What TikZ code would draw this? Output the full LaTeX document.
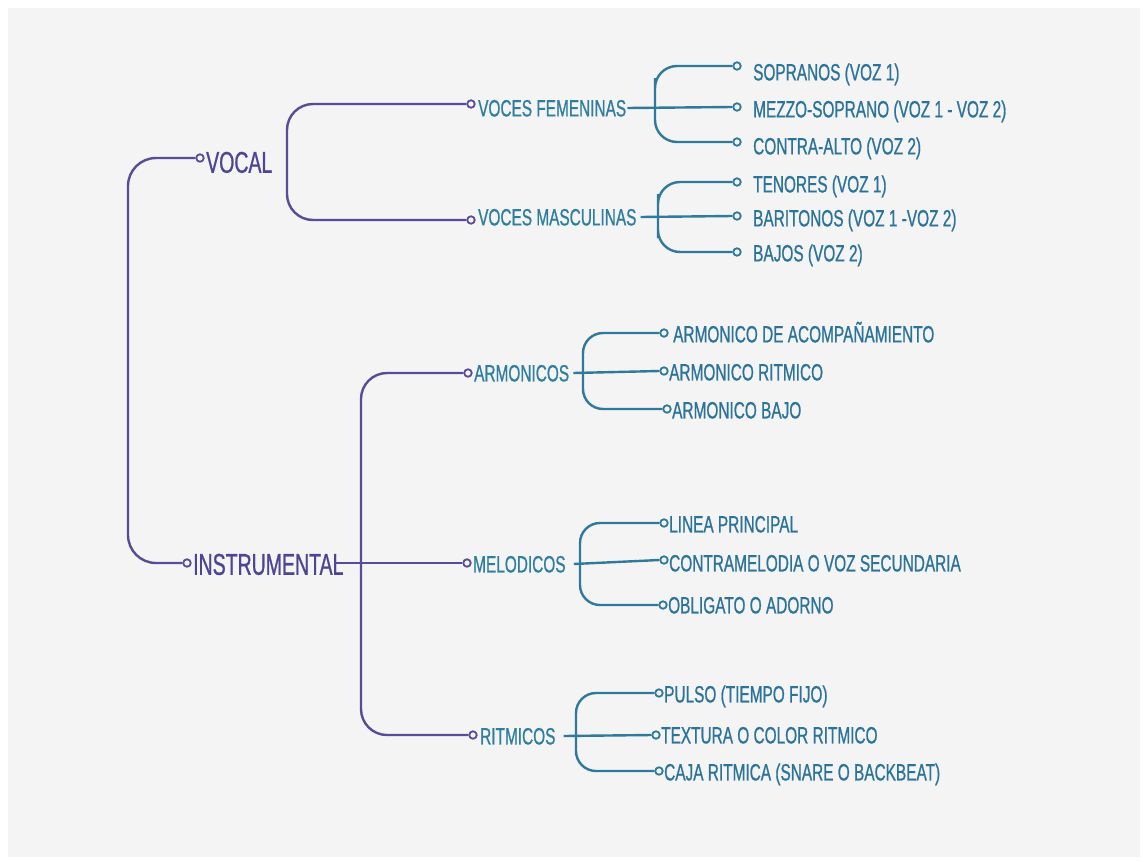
\documentclass[tikz,border=0pt]{standalone}
\usepackage{fontspec}
\setmainfont{Liberation Sans}[FakeStretch=0.655,FakeBold=0.8]
\newfontfamily\bigfont{Liberation Sans}[FakeStretch=0.65,FakeBold=0.8]
\definecolor{bg}{HTML}{F4F4F4}
\definecolor{purp}{HTML}{5A4B96}
\definecolor{purpT}{HTML}{4E4494}
\definecolor{tealL}{HTML}{2F7A9A}
\definecolor{tealB}{HTML}{2F7E9E}
\definecolor{tealC}{HTML}{2C7399}
\begin{document}
\begin{tikzpicture}[x=1pt,y=-1pt,
 lineP/.style={draw=purp,line width=2.4pt},
 lineT/.style={draw=tealL,line width=2.4pt},
 dotP/.style={circle,draw=purp,fill=bg,line width=1.8pt,inner sep=0pt,minimum size=7.5pt},
 dotT/.style={circle,draw=tealL,fill=bg,line width=1.8pt,inner sep=0pt,minimum size=7.5pt},
 lvlA/.style={anchor=west,inner sep=0pt,text=purpT,font=\bigfont\fontsize{30}{34}\selectfont,text height=21.5pt,text depth=0pt},
 lvlB/.style={anchor=west,inner sep=0pt,text=tealB,font=\fontsize{23.5}{27}\selectfont,text height=16.8pt,text depth=0pt},
 lvlC/.style={lvlB,text=tealC}]
\useasboundingbox (0,0) rectangle (1145,862);
\fill[white] (0,0) rectangle (1145,862);
\fill[bg] (8,8) rectangle (1140,857);

% level 1
\node[lvlA] (vocal) at (206,162) {VOCAL};
\node[lvlA] (inst) at (193,564) {INSTRUMENTAL};

% level 2
\node[lvlB] (vf) at (478,108) {VOCES FEMENINAS};
\node[lvlB] (vm) at (478,217) {VOCES MASCULINAS};
\node[lvlB] (arm) at (474,373) {ARMONICOS};
\node[lvlB] (mel) at (473,564) {MELODICOS};
\node[lvlB] (rit) at (480,736) {RITMICOS};

% level 3
\node[lvlC] (sop) at (753,72) {SOPRANOS (VOZ 1)};
\node[lvlC] (mez) at (753,109) {MEZZO-SOPRANO (VOZ 1 - VOZ 2)};
\node[lvlC] (con) at (753,146) {CONTRA-ALTO (VOZ 2)};
\node[lvlC] (ten) at (753,184) {TENORES (VOZ 1)};
\node[lvlC] (bar) at (753,218) {BARITONOS (VOZ 1 -VOZ 2)};
\node[lvlC] (baj) at (753,253) {BAJOS (VOZ 2)};
\node[lvlC] (aac) at (673,334) {ARMONICO DE ACOMPAÑAMIENTO};
\node[lvlC] (arr) at (669,372) {ARMONICO RITMICO};
\node[lvlC] (arb) at (672,410) {ARMONICO BAJO};
\node[lvlC] (lin) at (669,524) {LINEA PRINCIPAL};
\node[lvlC] (ctm) at (669,563) {CONTRAMELODIA O VOZ SECUNDARIA};
\node[lvlC] (obl) at (668,605) {OBLIGATO O ADORNO};
\node[lvlC] (pul) at (664,694) {PULSO (TIEMPO FIJO)};
\node[lvlC] (tex) at (661,735) {TEXTURA O COLOR RITMICO};
\node[lvlC] (caj) at (664,772) {CAJA RITMICA (SNARE O BACKBEAT)};

% dots
\node[dotP] (vocaldot) at (200,158) {};
\node[dotP] (instdot) at (187,563) {};
\node[dotP] (vfdot) at (471,104) {};
\node[dotP] (vmdot) at (471,220) {};
\node[dotP] (armdot) at (468,373) {};
\node[dotP] (meldot) at (467,563) {};
\node[dotP] (ritdot) at (473,735) {};
\node[dotT] (sopdot) at (737,66) {};
\node[dotT] (mezdot) at (737,107) {};
\node[dotT] (condot) at (737,142) {};
\node[dotT] (tendot) at (737,182) {};
\node[dotT] (bardot) at (737,216) {};
\node[dotT] (bajdot) at (737,252) {};
\node[dotT] (aacdot) at (664,333) {};
\node[dotT] (arrdot) at (664,371) {};
\node[dotT] (arbdot) at (667,409) {};
\node[dotT] (lindot) at (664,523) {};
\node[dotT] (ctmdot) at (664,560) {};
\node[dotT] (obldot) at (663,605) {};
\node[dotT] (puldot) at (659,693) {};
\node[dotT] (texdot) at (656,735) {};
\node[dotT] (cajdot) at (659,771) {};

% spine coordinates
\coordinate (spine0) at (128,360);
\coordinate (spineV) at (287,160);
\coordinate (spineI) at (361,560);
\coordinate (instend) at (335,563);
\coordinate (spineVF) at (655,100);
\coordinate (spineVM) at (658,216);
\coordinate (spineA) at (583,371);
\coordinate (spineM) at (580,563);
\coordinate (spineR) at (576,735);

% connectors level 1
\draw[lineP,rounded corners=28] (vocaldot.west) -| (spine0) |- (instdot.west);
\draw[lineP,rounded corners=26] (vfdot.west) -| (spineV) |- (vmdot.west);
\draw[lineP,rounded corners=26] (armdot.west) -| (spineI) |- (ritdot.west);
\draw[lineP] (instend) -- (meldot.west);

% connectors level 2
\draw[lineT] ([xshift=1pt]vf.east) -- (mezdot.west);
\draw[lineT,rounded corners=22] (sopdot.west) -| (spineVF) |- (condot.west);
\draw[lineT] ([xshift=4pt]vm.east) -- (bardot.west);
\draw[lineT,rounded corners=22] (tendot.west) -| (spineVM) |- (bajdot.west);
\draw[lineT] ([xshift=4pt]arm.east) -- (arrdot.west);
\draw[lineT,rounded corners=20] (aacdot.west) -| (spineA) |- (arbdot.west);
\draw[lineT] ([xshift=8pt]mel.east) -- (ctmdot.west);
\draw[lineT,rounded corners=20] (lindot.west) -| (spineM) |- (obldot.west);
\draw[lineT] ([xshift=8pt]rit.east) -- (texdot.west);
\draw[lineT,rounded corners=20] (puldot.west) -| (spineR) |- (cajdot.west);
\end{tikzpicture}
\end{document}
